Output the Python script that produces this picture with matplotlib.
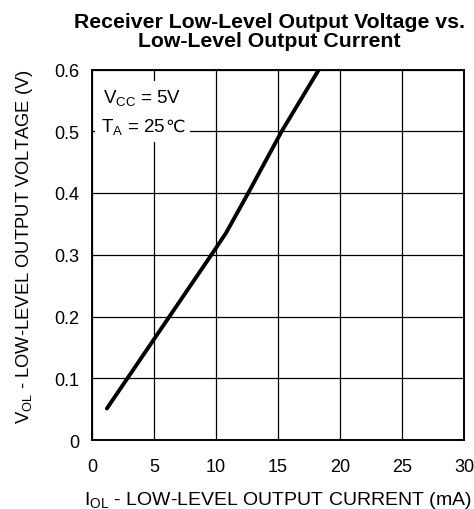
import matplotlib
matplotlib.use("Agg")
import matplotlib.pyplot as plt
import matplotlib.patches as mpatches

plt.rcParams.update({
    "font.family": ["Liberation Sans", "DejaVu Sans"],
    "mathtext.fontset": "custom",
    "mathtext.rm": "Liberation Sans",
    "mathtext.it": "Liberation Sans:italic",
    "mathtext.bf": "Liberation Sans:bold",
})

# curve
i_ol = [1.2, 9.7, 10.8, 12.6, 15.3, 18.3]
v_ol = [0.051, 0.302, 0.335, 0.4, 0.5, 0.6]

x_ticks = [0, 5, 10, 15, 20, 25, 30]
y_ticks = [0, 0.1, 0.2, 0.3, 0.4, 0.5, 0.6]
y_tick_labels = ["0", "0.1", "0.2", "0.3", "0.4", "0.5", "0.6"]

fig = plt.figure(figsize=(4.74, 5.10), dpi=100)
ax = fig.add_axes([92 / 474, 1 - 441 / 510, 372 / 474, 370.5 / 510])

ax.plot(i_ol, v_ol, color="black", lw=2.8, solid_capstyle="round", zorder=3)

ax.set_xlim(0, 30)
ax.set_ylim(0, 0.6)
ax.set_xticks(x_ticks)
ax.set_yticks(y_ticks)
ax.set_yticklabels(y_tick_labels)
ax.tick_params(length=0, labelsize=13)
ax.tick_params(axis="x", pad=13)
ax.tick_params(axis="y", pad=9)
ax.grid(True, color="black", lw=0.9)
for s in ax.spines.values():
    s.set_linewidth(1.4)

# white patch behind the conditions text, hiding the grid there
ax.add_patch(mpatches.Rectangle((0.24, 0.483), 7.66, 0.099, facecolor="white",
                                edgecolor="none", zorder=2.5))
ax.text(0.86, 0.548, r"V$_{\mathrm{CC}}$ = 5V", fontsize=13.5, va="baseline", ha="left",
        zorder=4)
t_a = ax.text(0.70, 0.501, r"T$_{\mathrm{A}}$ = 25", fontsize=13.5, va="baseline", ha="left",
              zorder=4)

# Liberation Sans has no degree-Celsius glyph, so put it on right after in DejaVu Sans
fig.canvas.draw()
x_end = t_a.get_window_extent(fig.canvas.get_renderer()).x1
x_end = ax.transData.inverted().transform((x_end, 0))[0]
ax.text(x_end, 0.501, "℃", fontsize=12.5, family="DejaVu Sans", va="baseline", ha="left",
        zorder=4)

ax.set_xlabel(r"I$_{\mathrm{OL}}$ - LOW-LEVEL OUTPUT CURRENT (mA)", fontsize=14)
ax.xaxis.set_label_coords(0.5, -0.132)
ax.set_ylabel(r"V$_{\mathrm{OL}}$ - LOW-LEVEL OUTPUT VOLTAGE (V)", fontsize=13.2)
ax.yaxis.set_label_coords(-0.153, 0.524)

fig.text(269 / 474, 1 - 32 / 510, "Receiver Low-Level Output Voltage vs.\nLow-Level Output Current",
         ha="center", va="center", fontsize=15.3, fontweight="bold", linespacing=0.95)

fig.savefig("out.png", dpi=100)
